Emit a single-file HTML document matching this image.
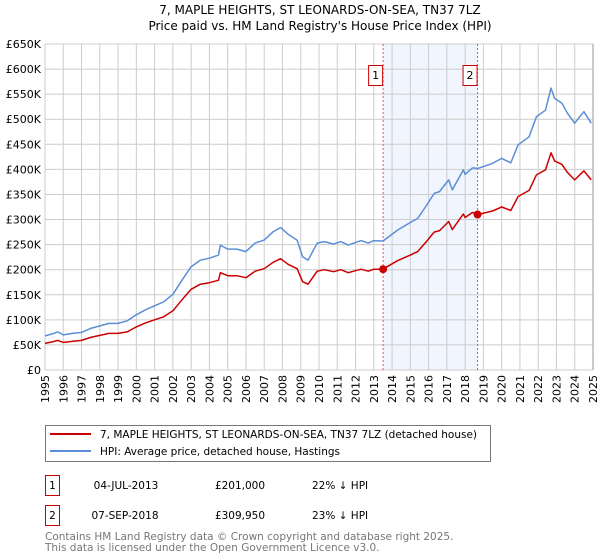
<!DOCTYPE html>
<html><head><meta charset="utf-8">
<style>
body{margin:0;background:#fff;font-family:"Liberation Sans","DejaVu Sans",sans-serif;}
svg{display:block}
text{font-family:"DejaVu Sans","Liberation Sans",sans-serif;}
</style></head>
<body>
<svg id="chart" width="600" height="560" viewBox="0 0 600 560">
<text x="320" y="14" font-size="12" text-anchor="middle" fill="#000">7, MAPLE HEIGHTS, ST LEONARDS-ON-SEA, TN37 7LZ</text>
<text x="320" y="30" font-size="12" text-anchor="middle" fill="#000">Price paid vs. HM Land Registry's House Price Index (HPI)</text>
<g id="plot"></g>
<g>
<rect x="45.5" y="425.5" width="445" height="36" fill="#fff" stroke="#777"/>
<line x1="50" y1="434" x2="91" y2="434" stroke="#cc0000" stroke-width="2"/>
<text x="100" y="438" font-size="10.5">7, MAPLE HEIGHTS, ST LEONARDS-ON-SEA, TN37 7LZ (detached house)</text>
<line x1="50" y1="451" x2="91" y2="451" stroke="#5b8ed6" stroke-width="2"/>
<text x="100" y="455" font-size="10.5">HPI: Average price, detached house, Hastings</text>
</g>
<g>
<rect x="45.5" y="475.5" width="14" height="20" fill="#fff" stroke="#cc0000"/>
<text x="52.5" y="489" font-size="10.5" text-anchor="middle">1</text>
<text x="126" y="489" font-size="10.5" text-anchor="middle">04-JUL-2013</text>
<text x="240" y="489" font-size="10.5" text-anchor="middle">£201,000</text>
<text x="312" y="489" font-size="10.5">22% ↓ HPI</text>
<rect x="45.5" y="505.5" width="14" height="20" fill="#fff" stroke="#cc0000"/>
<text x="52.5" y="519" font-size="10.5" text-anchor="middle">2</text>
<text x="125" y="519" font-size="10.5" text-anchor="middle">07-SEP-2018</text>
<text x="240" y="519" font-size="10.5" text-anchor="middle">£309,950</text>
<text x="312" y="519" font-size="10.5">23% ↓ HPI</text>
</g>
<text x="45" y="540" font-size="10.5" fill="#777">Contains HM Land Registry data © Crown copyright and database right 2025.</text>
<text x="45" y="551" font-size="10.5" fill="#777">This data is licensed under the Open Government Licence v3.0.</text>
</svg>
<script>
const yearsT = [1995.0,1995.4,1995.7,1996.0,1996.5,1997.0,1997.5,1998.0,1998.5,1999.0,1999.5,2000.0,2000.5,2001.0,2001.5,2002.0,2002.5,2003.0,2003.5,2004.0,2004.5,2004.6,2005.0,2005.5,2006.0,2006.5,2007.0,2007.5,2007.9,2008.3,2008.8,2009.1,2009.4,2009.9,2010.3,2010.8,2011.2,2011.6,2012.3,2012.7,2013.0,2013.5,2014.3,2015.0,2015.4,2015.9,2016.3,2016.6,2017.1,2017.3,2017.9,2018.0,2018.4,2018.7,2019.5,2020.0,2020.5,2020.9,2021.5,2021.9,2022.4,2022.7,2022.9,2023.3,2023.6,2024.0,2024.3,2024.5,2024.9];
const hpiK = [68,72,76,70,73,75,83,88,93,93,98,110,120,128,136,151,179,206,219,223,229,249,241,241,236,253,259,276,284,271,259,226,219,253,256,251,256,249,258,253,258,257,279,294,302,329,352,356,379,359,399,390,403,402,412,422,413,449,465,505,518,562,542,532,512,492,506,515,492];
const propertyK = [53,56,59,55,57,59,65,69,73,73,76,86,94,100,106,118,140,161,171,174,179,194,188,188,184,197,202,215,222,211,202,176,171,197,200,196,200,194,201,197,201,201,218,229,236,257,275,278,296,280,311,304,314,310,317,325,318,346,358,389,399,433,417,410,394,379,390,397,379];
const saleYears = [2013.51, 2018.68];
const salePricesK = [201, 309.95];
const saleLabels = ["1","2"];
const yTicksK = [0,50,100,150,200,250,300,350,400,450,500,550,600,650];
const xTickYears = [1995,1996,1997,1998,1999,2000,2001,2002,2003,2004,2005,2006,2007,2008,2009,2010,2011,2012,2013,2014,2015,2016,2017,2018,2019,2020,2021,2022,2023,2024,2025];

const NS = "http://www.w3.org/2000/svg";
const L=45, R=593, T=44, B=370;
const xs = y => L + (y-1995)/(2025-1995)*(R-L);
const ys = v => B - v/650*(B-T);
const g = document.getElementById('plot');
function mk(tag, attrs){const e=document.createElementNS(NS,tag);for(const k in attrs)e.setAttribute(k,attrs[k]);return e;}

const shade = mk('rect',{x:xs(saleYears[0]),y:T,width:xs(saleYears[1])-xs(saleYears[0]),height:B-T,fill:'#eef3fd',opacity:0.8});


g.appendChild(shade);

yTicksK.forEach(v=>{
  const ln = mk('line',{x1:L,x2:R,y1:ys(v),y2:ys(v),stroke:'#cccccc','stroke-width':1});
  
  
  g.appendChild(ln);
  const t = mk('text',{x:L-4,y:ys(v)+4,'font-size':11,'text-anchor':'end',fill:'#000'});
  t.textContent = v===0 ? '£0' : '£'+v+'K';
  
  
  g.appendChild(t);
});
xTickYears.forEach(yr=>{
  const ln = mk('line',{x1:xs(yr),x2:xs(yr),y1:T,y2:B,stroke:'#cccccc','stroke-width':1});
  
  
  g.appendChild(ln);
  const t = mk('text',{x:0,y:0,'font-size':11,'text-anchor':'end',fill:'#000',transform:`translate(${xs(yr)+4},${B+5}) rotate(-90)`});
  t.textContent = yr;
  
  
  g.appendChild(t);
});

saleYears.forEach((sy,i)=>{
  const ln = mk('line',{x1:xs(sy),x2:xs(sy),y1:T,y2:B,stroke:'#ee5555','stroke-width':1,'stroke-dasharray':'2,2'});
  
  
  g.appendChild(ln);
  const bx = mk('rect',{x:xs(sy)-14.5,y:65.5,width:14,height:20,fill:'#fff',stroke:'#cc0000'});
  
  
  g.appendChild(bx);
  const t = mk('text',{x:xs(sy)-7.5,y:79,'font-size':11,'text-anchor':'middle',fill:'#000'});
  t.textContent = saleLabels[i];
  
  
  g.appendChild(t);
});

function series(vals, color, name){
  const d = vals.map((v,i)=>(i?'L':'M')+xs(yearsT[i]).toFixed(1)+','+ys(v).toFixed(1)).join(' ');
  const p = mk('path',{d:d,fill:'none',stroke:color,'stroke-width':1.5,'stroke-linejoin':'round'});
  
  
  g.appendChild(p);
}
series(hpiK,'#5b8ed6','hpi-line');
series(propertyK,'#cc0000','property-price-line');

saleYears.forEach((sy,i)=>{
  const c = mk('circle',{cx:xs(sy),cy:ys(salePricesK[i]),r:4,fill:'#cc0000'});
  
  
  g.appendChild(c);
});
const endLine = mk('line',{x1:R,x2:R,y1:T,y2:B,stroke:'#999','stroke-width':1});


g.appendChild(endLine);
</script>
</body></html>
